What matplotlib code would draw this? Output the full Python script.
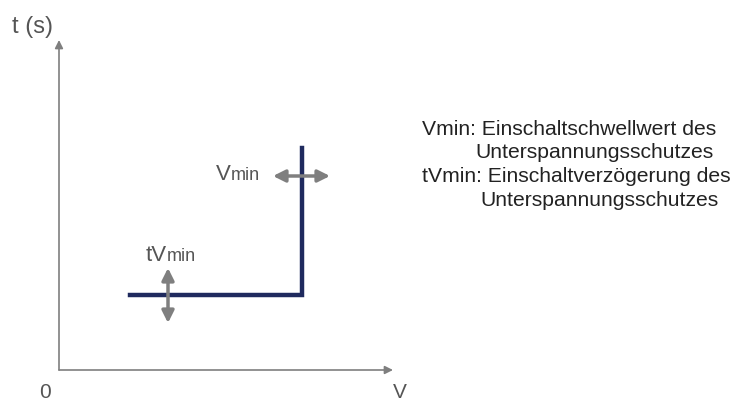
import matplotlib.pyplot as plt

plt.rcParams['font.family'] = ['Liberation Sans', 'DejaVu Sans']

# Kennlinie (Einheiten frei gewaehlt, Achsen 0..334 / 0..330)
curve_v = [71, 243, 243]
curve_t = [75, 75, 222]
v_min = 243
t_vmin = 75

legend_lines = [
    "Vmin: Einschaltschwellwert des",
    "Unterspannungsschutzes",
    "tVmin: Einschaltverzögerung des",
    "Unterspannungsschutzes",
]

W, H = 736, 401
fig = plt.figure(figsize=(W / 100, H / 100), dpi=100)
ax = fig.add_axes([59 / W, 31 / H, 334 / W, 330 / H])
ax.set_xlim(0, 334)
ax.set_ylim(0, 330)
ax.axis('off')

grey = '#7f7f7f'
navy = '#1f2a5e'

# Axes with arrow heads
for tip in [(0, 1), (1, 0)]:
    ax.annotate('', xy=tip, xytext=(0, 0), xycoords='axes fraction',
                arrowprops=dict(arrowstyle='-|>', color=grey, lw=1.2, mutation_scale=12,
                                shrinkA=0, shrinkB=0))

# Characteristic curve
ax.plot(curve_v, curve_t, color=navy, lw=3.2, solid_joinstyle='miter', clip_on=False)

# Adjustment arrows
ax.annotate('', xy=(v_min - 29, 194), xytext=(v_min + 28, 194),
            arrowprops=dict(arrowstyle='<|-|>', color=grey, lw=2.5, mutation_scale=18,
                            shrinkA=0, shrinkB=0))
ax.annotate('', xy=(109, t_vmin + 27), xytext=(109, t_vmin - 28),
            arrowprops=dict(arrowstyle='<|-|>', color=grey, lw=2.5, mutation_scale=18,
                            shrinkA=0, shrinkB=0))

# Labels: big letter + small "min" on the same baseline
label_col = '#555555'
ax.text(172, 190, 'V', fontsize=16, color=label_col, ha='right', va='baseline')
ax.text(172, 190, 'min', fontsize=13, color=label_col, ha='left', va='baseline')
ax.text(108, 109, 'tV', fontsize=16, color=label_col, ha='right', va='baseline')
ax.text(108, 109, 'min', fontsize=13, color=label_col, ha='left', va='baseline')


def px(x, y):
    return x / W, 1 - y / H


fig.text(*px(12, 33), 't (s)', fontsize=17, color=label_col, ha='left', va='baseline')
fig.text(*px(44.5, 398), '0', fontsize=15, color=label_col, ha='center', va='baseline')
fig.text(*px(400, 398), 'V', fontsize=15, color=label_col, ha='center', va='baseline')

text_col = '#222222'
xs = [422, 475, 422, 480]
ys = [135, 158, 182, 206]
for s, x, y in zip(legend_lines, xs, ys):
    fig.text(*px(x, y), s, fontsize=15.2, color=text_col, ha='left', va='baseline')

fig.savefig('out.png', dpi=100)
